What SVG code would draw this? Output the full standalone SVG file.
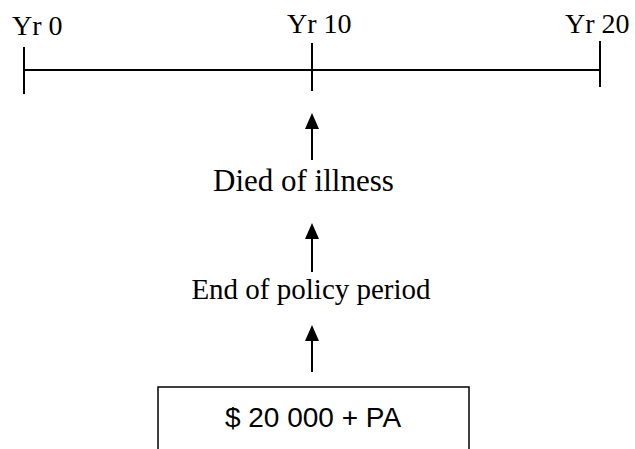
<svg xmlns="http://www.w3.org/2000/svg" width="635" height="449" viewBox="0 0 635 449">
<style>
.serif{font-family:"Liberation Serif","Times New Roman",serif;fill:#000}
.sans{font-family:"Liberation Sans",Arial,sans-serif;fill:#000}
.ln{stroke:#000;stroke-width:2;fill:none}
.head{fill:#000}
</style>
<rect width="635" height="449" fill="#fff"/>
<g id="timeline">
<line class="ln" x1="24" y1="70" x2="600" y2="70"/>
<line class="ln" x1="24" y1="47" x2="24" y2="94"/>
<line class="ln" x1="312" y1="43" x2="312" y2="91"/>
<line class="ln" x1="600" y1="41" x2="600" y2="87"/>
<text class="serif" x="12" y="35" font-size="28">Yr 0</text>
<text class="serif" x="287" y="33" font-size="28">Yr 10</text>
<text class="serif" x="565" y="33" font-size="28">Yr 20</text>
</g>
<g id="died">
<text class="serif" x="213" y="191" font-size="31">Died of illness</text>
</g>
<g id="end">
<text class="serif" x="311" y="299" font-size="29" text-anchor="middle">End of policy period</text>
</g>
<g id="payout">
<rect x="158" y="387" width="311" height="80" fill="none" stroke="#000" stroke-width="1.5"/>
<text class="sans" x="313" y="427" font-size="28" text-anchor="middle">$ 20 000 + PA</text>
</g>
<g id="connectors">
<line class="ln" x1="312" y1="160" x2="312" y2="126"/>
<polygon class="head" points="312,113 305,129 319,129"/>
<line class="ln" x1="312" y1="272" x2="312" y2="236"/>
<polygon class="head" points="312,223 305,239 319,239"/>
<line class="ln" x1="312" y1="372" x2="312" y2="338"/>
<polygon class="head" points="312,325 305,341 319,341"/>
</g>
</svg>
